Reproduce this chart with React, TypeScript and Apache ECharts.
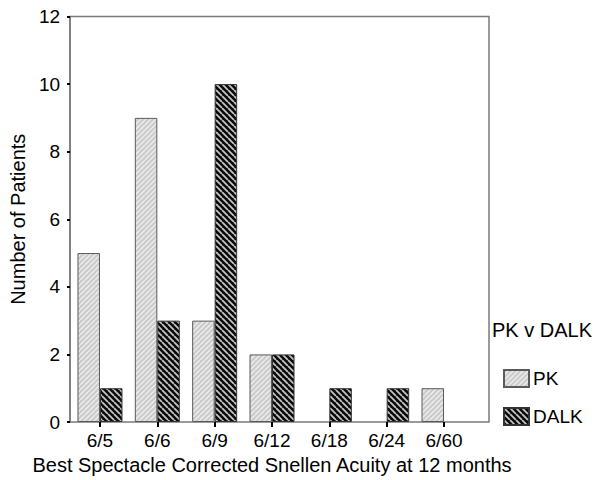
import React, { useEffect, useRef } from 'react';
import * as echarts from 'echarts';

const categories = ['6/5', '6/6', '6/9', '6/12', '6/18', '6/24', '6/60'];
const pkValues = [5, 9, 3, 2, 0, 0, 1];
const dalkValues = [1, 3, 10, 2, 1, 1, 0];
const yMin = 0;
const yMax = 12;
const yInterval = 2;
const seriesNames = ['PK', 'DALK'];
const legendTitle = 'PK v DALK';
const xTitle = 'Best Spectacle Corrected Snellen Acuity at 12 months';
const yTitle = 'Number of Patients';

const FONT = '"Liberation Sans", Arial, Helvetica, sans-serif';

function makePattern(size: number, bg: string, fg: string, lw: number, dir: 'fwd' | 'back') {
  const c = document.createElement('canvas');
  c.width = size;
  c.height = size;
  const ctx = c.getContext('2d') as CanvasRenderingContext2D;
  ctx.fillStyle = bg;
  ctx.fillRect(0, 0, size, size);
  ctx.strokeStyle = fg;
  ctx.lineWidth = lw;
  ctx.beginPath();
  for (const o of [-size, 0, size]) {
    if (dir === 'back') {
      ctx.moveTo(o, 0);
      ctx.lineTo(o + size, size);
    } else {
      ctx.moveTo(o, size);
      ctx.lineTo(o + size, 0);
    }
  }
  ctx.stroke();
  return { image: c, repeat: 'repeat', imageWidth: size, imageHeight: size } as any;
}

// zero counts are not drawn as bars
const toBarData = (vals: number[]) => vals.map((v) => (v === 0 ? '-' : v));

export default function App() {
  const ref = useRef<HTMLDivElement>(null);
  useEffect(() => {
    if (!ref.current) return;
    const chart = echarts.init(ref.current, null, { renderer: 'svg' });
    const pkFill = makePattern(5, '#cbcbcb', '#efefef', 1.4, 'fwd');
    const dalkFill = makePattern(6, '#0a0a0a', '#c4c4c4', 1.8, 'back');
    const option: any = {
      animation: false,
      backgroundColor: '#ffffff',
      textStyle: { fontFamily: FONT, color: '#000' },
      grid: [
        { left: 55, right: 106, top: 16.5, bottom: 58, show: true, borderColor: '#7a7a7a', borderWidth: 1.5, backgroundColor: 'transparent' },
        { left: 71.3, right: 122.3, top: 16.5, bottom: 58 },
      ],
      xAxis: [
        { gridIndex: 0, type: 'value', show: false, min: 0, max: 1 },
        {
          gridIndex: 1,
          type: 'category',
          data: categories,
          axisLine: { show: false },
          axisTick: { show: true, alignWithLabel: true, length: 5, lineStyle: { color: '#000', width: 2 } },
          axisLabel: { fontSize: 19, color: '#000', fontFamily: FONT, margin: 9 },
          name: xTitle,
          nameLocation: 'middle',
          nameGap: 32,
          nameTextStyle: { fontSize: 20, color: '#000', fontFamily: FONT },
        },
      ],
      yAxis: [
        {
          gridIndex: 0,
          type: 'value',
          min: yMin,
          max: yMax,
          interval: yInterval,
          axisLine: { show: true, lineStyle: { color: '#7a7a7a', width: 1.5 } },
          axisTick: { show: true, length: 3, lineStyle: { color: '#000', width: 2 } },
          axisLabel: { fontSize: 19, color: '#000', fontFamily: FONT, margin: 10 },
          splitLine: { show: false },
          name: yTitle,
          nameLocation: 'middle',
          nameGap: 29,
          nameTextStyle: { fontSize: 20, color: '#000', fontFamily: FONT },
        },
        { gridIndex: 1, type: 'value', min: yMin, max: yMax, show: false },
      ],
      legend: {
        orient: 'vertical',
        left: 498,
        top: 364,
        itemWidth: 25,
        itemHeight: 17,
        itemGap: 19,
        icon: 'rect',
        textStyle: { fontSize: 19, color: '#000', fontFamily: FONT, padding: [0, 0, 0, -1] },
        data: seriesNames,
      },
      graphic: [
        {
          type: 'text',
          left: 492,
          top: 320,
          style: { text: legendTitle, fontSize: 20, fill: '#000', fontFamily: FONT },
        },
      ],
      series: [
        {
          name: seriesNames[0],
          type: 'bar',
          xAxisIndex: 1,
          yAxisIndex: 1,
          data: toBarData(pkValues),
          barWidth: 22.5,
          barGap: '0%',
          itemStyle: { color: pkFill, borderColor: '#5a5a5a', borderWidth: 1 },
        },
        {
          name: seriesNames[1],
          type: 'bar',
          xAxisIndex: 1,
          yAxisIndex: 1,
          data: toBarData(dalkValues),
          barWidth: 22.5,
          barGap: '0%',
          itemStyle: { color: dalkFill, borderColor: '#333', borderWidth: 1 },
        },
      ],
    };
    chart.setOption(option);
    return () => chart.dispose();
  }, []);
  return (
    <div
      ref={ref}
      style={{ position: 'fixed', left: 0, top: 0, width: 595, height: 480 }}
    />
  );
}
